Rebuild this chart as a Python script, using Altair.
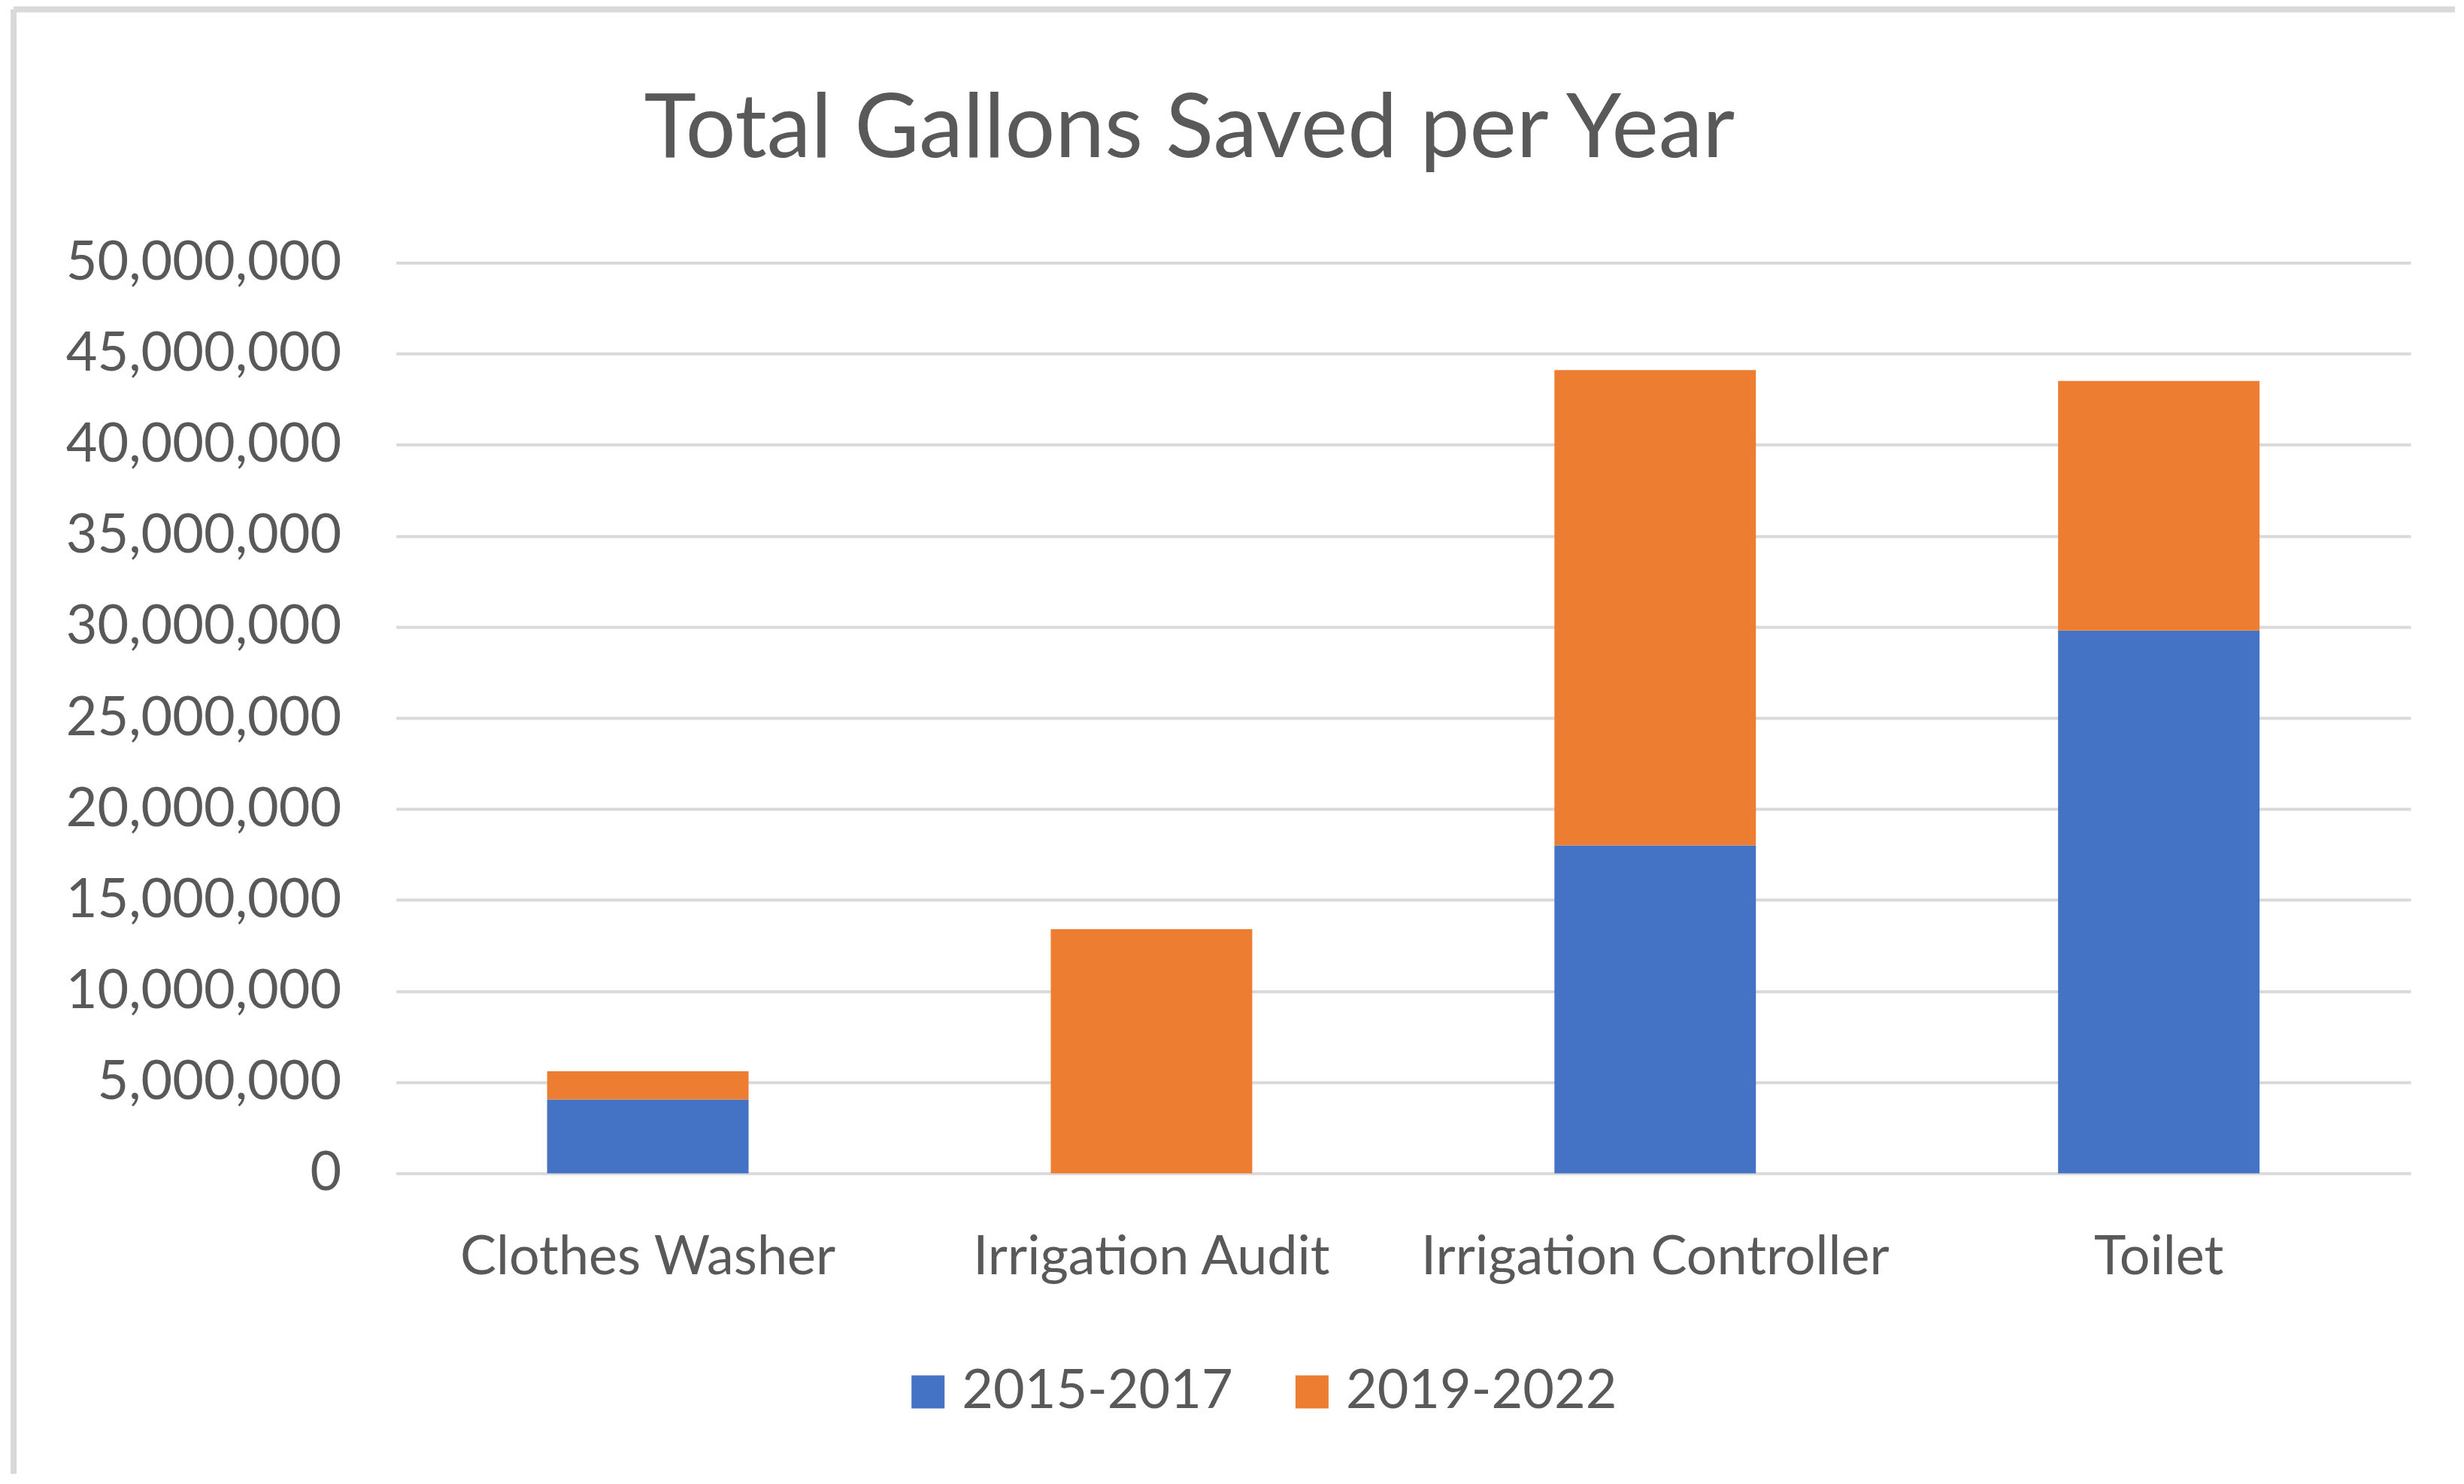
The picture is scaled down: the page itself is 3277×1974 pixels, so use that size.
import altair as alt
import pandas as pd

categories = ["Clothes Washer", "Irrigation Audit", "Irrigation Controller", "Toilet"]
periods = ["2015-2017", "2019-2022"]
values_2015_2017 = [4050000, 0, 18000000, 29800000]
values_2019_2022 = [1550000, 13400000, 26100000, 13700000]
colors = ["#4472C4", "#ED7D31"]
y_ticks = [0, 5000000, 10000000, 15000000, 20000000, 25000000, 30000000, 35000000, 40000000, 45000000, 50000000]
title_text = "Total Gallons Saved per Year"

rows = []
for i, c in enumerate(categories):
    rows.append({"category": c, "period": periods[0], "value": values_2015_2017[i], "ord": 0})
    rows.append({"category": c, "period": periods[1], "value": values_2019_2022[i], "ord": 1})
df = pd.DataFrame(rows)

FONT = "Lato"
TXT = "#595959"
GRID = "#D9D9D9"

bars = alt.Chart(df).mark_bar().encode(
    x=alt.X("category:N", sort=categories, title=None,
            scale=alt.Scale(paddingInner=0.6, paddingOuter=0.3),
            axis=alt.Axis(labelAngle=0, labelFontSize=72, labelColor=TXT, labelFont=FONT,
                          labelPadding=77, labelLimit=2000, ticks=False, tickSize=0,
                          domain=False, grid=False)),
    y=alt.Y("value:Q", stack="zero", title=None,
            scale=alt.Scale(domain=[0, 50000000], nice=False),
            axis=alt.Axis(values=y_ticks, format=",.0f", labelFontSize=72, labelColor=TXT,
                          labelFont=FONT, labelPadding=73, labelLimit=2000, ticks=False,
                          tickSize=0, domain=False, grid=True, gridColor=GRID, gridWidth=4)),
    color=alt.Color("period:N", scale=alt.Scale(domain=periods, range=colors),
                    legend=alt.Legend(title=None, orient="none", direction="horizontal",
                                      legendX=672, legendY=1467, symbolType="square",
                                      symbolSize=1936, symbolStrokeWidth=0,
                                      labelFontSize=72, labelFont=FONT, labelColor=TXT,
                                      labelOffset=9, columnPadding=69, padding=0,
                                      labelLimit=2000)),
    order=alt.Order("ord:Q"),
)

border_df = pd.DataFrame({"b": [0]})
left_border = alt.Chart(border_df).mark_rule(color=GRID, strokeWidth=8).encode(
    x=alt.value(-509), y=alt.value(-337), y2=alt.value(1612)
)
top_border = alt.Chart(border_df).mark_rule(color=GRID, strokeWidth=8).encode(
    x=alt.value(-509), x2=alt.value(2740), y=alt.value(-337)
)
title_df = pd.DataFrame({"t": [title_text]})
title_mark = alt.Chart(title_df).mark_text(
    font=FONT, fontSize=118, color=TXT, align="left", baseline="alphabetic"
).encode(text="t:N", x=alt.value(330), y=alt.value(-140))

chart = alt.layer(left_border, top_border, title_mark, bars).properties(
    width=2681, height=1212,
    padding={"left": 6, "top": 0, "right": 0, "bottom": 0},
    background="white",
).configure_view(strokeWidth=0)

chart.save("out.html", embed_options={"renderer": "svg", "actions": False})
